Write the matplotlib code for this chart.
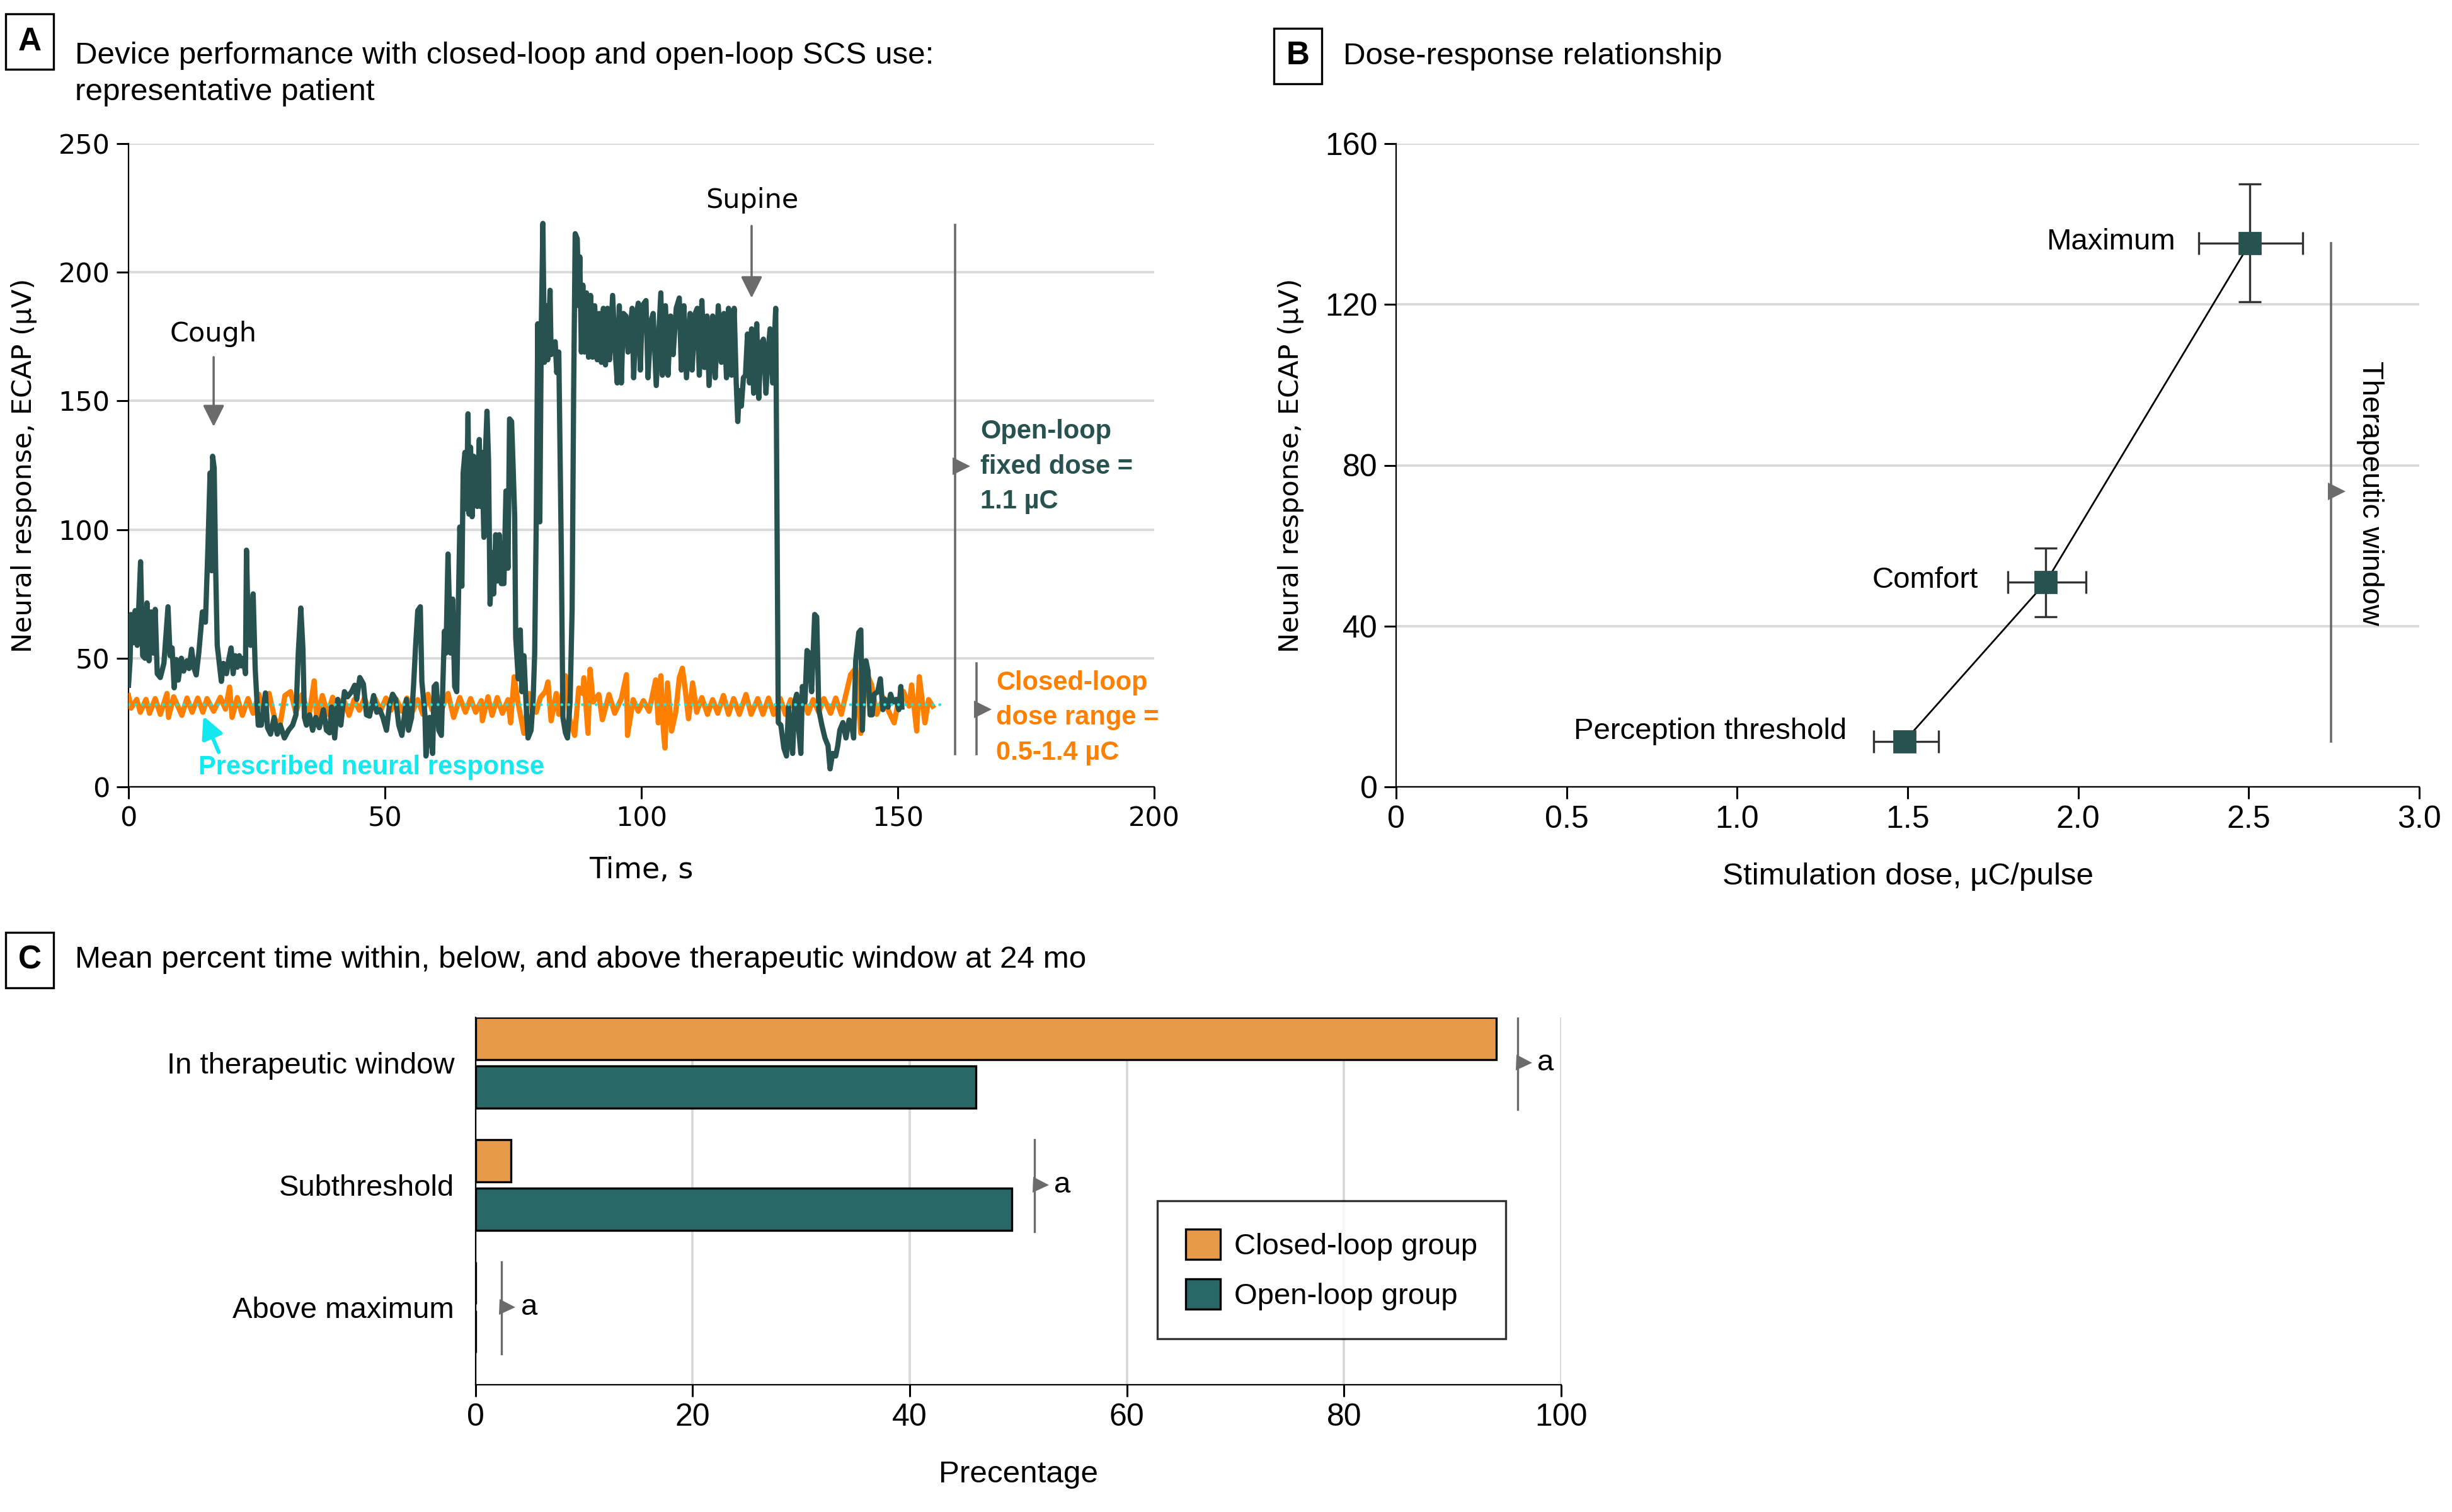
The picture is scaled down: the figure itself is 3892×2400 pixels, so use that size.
import matplotlib
matplotlib.use('Agg')
import matplotlib.pyplot as plt
from matplotlib import font_manager
import numpy as np

# ---- panel A: representative patient trace (time s, ECAP uV) ----
t_open = [0.0, 0.3, 0.5, 0.9, 1.3, 1.7, 2.35, 2.76, 3.2, 3.6,
          4.0, 4.4, 4.8, 5.2, 5.6, 6.2, 6.9, 7.3, 7.7, 8.1,
          8.5, 8.9, 9.3, 9.7, 10.3, 10.75, 11.4, 11.8, 12.3, 12.8,
          13.2, 13.7, 14.4, 15.0, 15.5, 15.9, 16.2, 16.4, 16.7, 17.0,
          17.3, 17.7, 18.1, 18.5, 19.1, 19.5, 20.0, 20.4, 20.8, 21.2,
          21.6, 22.0, 22.4, 22.8, 23.0, 23.4, 23.8, 24.3, 24.7, 25.3,
          25.9, 26.7, 27.1, 27.7, 28.4, 29.0, 29.6, 30.4, 31.2, 32.0,
          32.65, 33.1, 33.6, 34.0, 34.3, 34.7, 35.3, 35.9, 36.5, 37.2,
          38.0, 38.6, 39.2, 39.6, 40.2, 40.8, 41.4, 42.1, 42.7, 43.5,
          44.1, 44.5, 45.1, 45.8, 46.4, 47.0, 47.8, 48.4, 49.0, 49.6,
          50.3, 50.9, 51.5, 52.1, 52.7, 53.3, 54.2, 54.6, 55.2, 55.6,
          56.0, 56.4, 56.9, 57.2, 57.8, 58.0, 58.7, 59.3, 59.6, 60.0,
          60.5, 61.0, 61.6, 61.9, 62.3, 62.8, 63.2, 63.6, 64.0, 64.6,
          65.0, 65.25, 65.6, 65.9, 66.2, 66.4, 66.7, 67.0, 67.3, 67.6,
          68.0, 68.4, 68.6, 68.9, 69.3, 69.6, 69.9, 70.2, 70.5, 70.9,
          71.2, 71.6, 71.9, 72.3, 72.7, 73.2, 73.6, 74.0, 74.3, 74.7,
          75.0, 75.3, 75.5, 76.0, 76.4, 76.7, 77.1, 77.5, 77.9, 78.5,
          78.9, 79.2, 79.5, 79.8, 80.2, 80.5, 80.8, 81.1, 81.5, 81.75,
          82.2, 82.4, 82.8, 83.2, 83.5, 83.9, 84.4, 84.7, 85.2, 85.6,
          86.1, 86.5, 86.8, 87.1, 87.5, 87.8, 88.0, 88.3, 88.6, 88.9,
          89.3, 89.7, 90.1, 90.5, 90.9, 91.4, 91.8, 92.2, 92.6, 93.0,
          93.4, 93.8, 94.4, 94.9, 95.3, 95.7, 96.1, 96.5, 97.0, 97.4,
          98.2, 98.5, 99.0, 99.4, 99.8, 100.2, 100.9, 101.3, 101.9, 102.3,
          102.9, 103.3, 103.8, 104.1, 104.7, 105.2, 105.7, 106.2, 106.8, 107.4,
          107.8, 108.3, 108.8, 109.5, 109.9, 110.5, 110.9, 111.3, 111.8, 112.3,
          112.8, 113.2, 113.9, 114.4, 115.0, 115.6, 116.1, 116.6, 117.0, 117.6,
          118.1, 118.5, 118.8, 119.1, 119.5, 119.9, 120.3, 120.7, 121.1, 121.5,
          121.9, 122.5, 122.9, 123.3, 123.8, 124.3, 124.7, 125.1, 125.6, 126.2,
          126.7, 127.2, 127.8, 128.3, 128.7, 129.1, 129.5, 129.9, 130.3, 130.7,
          131.1, 131.4, 131.9, 132.3, 132.7, 133.2, 133.8, 134.2, 134.6, 135.2,
          135.8, 136.4, 136.8, 137.3, 137.9, 138.3, 138.7, 139.3, 139.9, 140.5,
          141.0, 141.4, 141.8, 142.4, 142.8, 143.1, 143.4, 143.8, 144.2, 144.6,
          145.0, 145.4, 146.1, 146.6, 147.1, 147.5, 148.1, 148.6, 149.1, 149.7,
          150.2, 150.6, 150.8]
ecap_open = [39.5, 49, 67, 56, 68.5, 55, 87.5, 51, 50, 71.5,
             49, 68, 52, 69, 44, 42.5, 48, 59, 70, 51,
             54, 38.5, 49.5, 41.5, 50, 45, 49, 46, 53.5, 46,
             43.5, 52, 68, 64, 94, 122, 84, 128.5, 124, 84,
             55, 48, 41, 48, 44, 49, 54, 44, 51, 46.5,
             51, 47, 50, 44, 92, 56, 55, 75, 46, 24,
             24, 36.5, 23, 20.5, 27, 20.5, 24, 19, 22, 24,
             28, 52, 69.5, 54, 27, 24, 28, 22, 27, 23,
             30, 22, 21, 31, 19, 34, 24, 37, 35, 37,
             39.5, 34, 42.5, 40, 28, 27.5, 35.5, 29, 30, 27,
             22, 32, 36, 34, 24, 20, 34, 22, 27, 40,
             55.5, 68.5, 70, 41, 28, 12, 27, 13, 39, 40,
             22, 20, 60.5, 52, 90.5, 52, 73, 39, 37, 101,
             78, 122, 130, 108, 145, 106, 132, 105, 128.5, 110,
             109, 135, 109, 130, 97, 130, 146, 127, 71, 91,
             75, 98, 80, 98, 79, 79, 115, 85, 143, 142,
             124, 105, 58, 42, 61, 37, 51, 33, 19, 22,
             34, 52, 102, 180, 103, 180, 219, 165, 187, 166,
             193, 168, 172, 173, 161, 169, 90, 27, 21, 19,
             33, 69, 154, 215, 213, 187, 206, 169, 195, 169,
             192, 167, 191, 167, 187, 166, 184, 165, 186, 164,
             186, 166, 191, 169, 157, 187, 157, 184, 183, 169,
             186, 159, 183, 188, 162, 187, 189, 159, 181, 184,
             156, 172, 192, 160, 187, 160, 183, 168, 186, 190,
             162, 187, 159, 184, 162, 184, 186, 160, 189, 163,
             183, 156, 183, 159, 187, 165, 184, 159, 186, 160,
             186, 157, 142, 154, 148, 159, 160, 176, 157, 178,
             153, 180, 151, 172, 174, 153, 169, 178, 157, 186,
             25, 24, 15, 12, 31, 19, 13, 33, 36, 22,
             13, 39, 33, 53, 52, 37, 67, 66, 30, 24,
             19, 16, 7, 13, 12, 16, 22, 25, 19, 26,
             24, 19, 49, 60, 61, 22, 40, 49, 45, 28,
             28, 36, 37, 42, 30, 34, 31, 36, 33, 34,
             30, 39, 31]

t_closed = [0.0, 0.5, 1.6, 2.3, 3.4, 4.1, 5.2, 6.2, 7.5, 7.8,
            8.8, 10.4, 11.4, 12.4, 13.5, 14.5, 15.3, 16.6, 17.9, 18.9,
            19.7, 20.2, 21.2, 22.2, 23.3, 24.3, 25.4, 26.4, 27.4, 28.5,
            29.5, 30.5, 31.6, 32.6, 33.9, 35.2, 36.2, 36.7, 37.8, 38.8,
            39.8, 40.9, 41.9, 43.0, 44.0, 45.0, 46.0, 47.1, 48.1, 49.1,
            50.2, 51.2, 52.2, 53.3, 54.3, 55.3, 56.4, 57.4, 58.4, 59.2,
            60.0, 61.0, 62.3, 63.4, 64.6, 65.7, 66.7, 67.7, 68.8, 69.0,
            70.1, 70.9, 71.9, 72.9, 74.0, 74.5, 75.2, 76.0, 77.1, 78.1,
            79.5, 80.3, 81.3, 81.8, 82.4, 83.4, 83.9, 85.2, 86.0, 87.0,
            87.8, 88.6, 88.8, 89.6, 90.0, 90.6, 91.7, 92.4, 93.7, 94.8,
            96.1, 97.1, 97.3, 98.4, 99.4, 100.4, 101.5, 102.8, 103.3, 103.8,
            104.3, 104.6, 105.1, 105.9, 106.7, 107.4, 108.0, 108.5, 109.2, 110.0,
            110.8, 111.8, 112.9, 113.9, 114.9, 116.0, 117.0, 118.0, 119.1, 120.4,
            121.4, 122.7, 123.7, 124.8, 125.8, 127.1, 128.1, 129.1, 130.2, 131.5,
            132.5, 133.5, 134.6, 135.6, 136.9, 137.9, 139.0, 139.7, 140.8, 141.8,
            142.8, 143.9, 144.9, 145.9, 147.2, 148.3, 149.3, 150.1, 151.1, 152.2,
            152.7, 153.7, 154.2, 155.3, 156.0, 156.8]
ecap_closed = [35.5, 30.6, 34, 29, 34, 28.6, 34.3, 28.2, 36.3, 27,
               35, 27.8, 34.5, 29, 34.5, 29, 34.3, 29.4, 34.8, 30.2,
               38.8, 27, 34.7, 27.8, 34.3, 28.6, 36, 28.6, 36.3, 26.5,
               23.7, 35.5, 37, 29, 36, 27.4, 41.2, 26.5, 35.5, 28.2,
               34.8, 29.4, 34.3, 27.8, 33.9, 29.8, 34.5, 29, 34.3, 29.4,
               34.5, 29.8, 34, 29.4, 34.5, 29, 33.9, 28.2, 36, 29.8,
               36.3, 29.8, 36.3, 27, 34.7, 29, 34.3, 29, 33.5, 25.7,
               35, 27.8, 34.7, 28.6, 33.9, 24.9, 42.8, 32.2, 20.8, 36.3,
               29, 34.7, 37.1, 40.8, 25.7, 36.3, 28.2, 43.2, 26.5, 20,
               38.4, 36.3, 42.4, 20.8, 45.7, 33, 35.9, 26.1, 35.9, 28.6,
               34.3, 43.6, 20, 33.9, 29.4, 33.5, 29.4, 41.6, 24.9, 43.2,
               21.7, 15.1, 40.4, 21.7, 29, 42.4, 46.1, 38.8, 26.5, 40.4,
               29, 34.7, 28.2, 33.9, 28.6, 35.5, 28.2, 34.3, 28.2, 35.9,
               28.2, 34.3, 28.2, 34.5, 28.2, 34.3, 28.2, 33.9, 29, 34.3,
               28.6, 33.9, 29, 34.3, 28.6, 34.5, 28.2, 34.3, 43.6, 46.1,
               20.8, 44.5, 39.6, 28.2, 34.7, 29, 24.9, 33, 37.1, 31.4,
               39.6, 21.7, 42.8, 24.9, 33.9, 31.4]

prescribed_ecap = 32
prescribed_span = [0, 158.5]

# ---- panel B: dose-response ----
dose_points = ['Perception threshold', 'Comfort', 'Maximum']
dose = [1.49, 1.905, 2.503]
dose_lo = [1.40, 1.793, 2.354]
dose_hi = [1.59, 2.022, 2.659]
resp = [11.3, 50.9, 135.2]
resp_lo = [9.5, 42.3, 120.6]
resp_hi = [12.8, 59.4, 150.0]
dose_ticklabels = ['0', '0.5', '1.0', '1.5', '2.0', '2.5', '3.0']

# ---- panel C: mean percent time ----
window_cats = ['In therapeutic window', 'Subthreshold', 'Above maximum']
closed_pct = [94.0, 3.3, 0.0]
open_pct = [46.1, 49.4, 0.0]
sig_x = [96.0, 51.5, 2.4]

DARK = '#28524F'
ORANGE = '#FF8000'
CYAN = '#12E8EE'
GRAY = '#6B6B6B'
GRID = '#DADADA'

plt.rcParams['font.family'] = 'DejaVu Sans'


def nar(size, weight='normal'):
    # narrower face used for titles and panels B/C
    return font_manager.FontProperties(family='Liberation Sans', size=size, weight=weight)


W, H = 3892, 2400
fig = plt.figure(figsize=(W / 200, H / 200), dpi=200)


def fx(px):
    return px / W


def fy(py):
    return 1 - py / H


def panel_title(x_box, y, letter, text):
    fig.text(fx(x_box), fy(y), letter, fontproperties=nar(18.5, 'bold'),
             ha='center', va='center',
             bbox=dict(boxstyle='square,pad=0.38', fc='white', ec='black', lw=1.2))
    fig.text(fx(x_box + 72), fy(y), text, fontproperties=nar(17.8),
             ha='left', va='top' if '\n' in text else 'center',
             linespacing=1.38)


# ================= A =================
axA = fig.add_axes([fx(204), fy(1249), fx(1832 - 204), (1249 - 228) / H])
axA.plot(t_closed, ecap_closed, color=ORANGE, lw=3.0, zorder=3)
axA.plot(t_open, ecap_open, color=DARK, lw=3.0, zorder=4)
axA.plot(prescribed_span, [prescribed_ecap] * 2, color=CYAN, lw=1.7,
         linestyle=(0, (0.01, 2.3)), dash_capstyle='round', zorder=5)
axA.set_xlim(0, 200)
axA.set_ylim(0, 250)
axA.set_xticks(np.arange(0, 201, 50))
axA.set_yticks(np.arange(0, 251, 50))
axA.yaxis.grid(True, color=GRID, lw=1.4)
axA.set_axisbelow(True)
for s in ['top', 'right']:
    axA.spines[s].set_visible(False)
axA.tick_params(labelsize=15.5, length=7, width=1.1, direction='out')
axA.set_xlabel('Time, s', fontsize=16.5, labelpad=14)
axA.set_ylabel('Neural response, ECAP (µV)', fontsize=15.5, labelpad=12)

arrow_kw = dict(arrowstyle='-|>', color=GRAY, lw=1.3, mutation_scale=26,
                shrinkA=0, shrinkB=0)
axA.annotate('', xy=(16.6, 140), xytext=(16.6, 167), arrowprops=arrow_kw)
axA.text(16.6, 176, 'Cough', ha='center', va='center', fontsize=15.5)
axA.annotate('', xy=(121.5, 190), xytext=(121.5, 218), arrowprops=arrow_kw)
axA.text(121.6, 228, 'Supine', ha='center', va='center', fontsize=15.5)

axA.annotate('', xy=(14.6, 27.5), xytext=(17.6, 13.5),
             arrowprops=dict(arrowstyle='-|>', color=CYAN, lw=2.2,
                             mutation_scale=26, shrinkA=0, shrinkB=0))
axA.text(13.6, 7.6, 'Prescribed neural response', color=CYAN,
         fontproperties=nar(15, 'bold'), ha='left', va='center')

axA.plot([161.2, 161.2], [12.7, 218.5], color=GRAY, lw=1.3)
axA.plot(162.4, 124.7, marker='>', color=GRAY, ms=10, mew=0)
axA.text(166.1, 124.5, 'Open-loop\nfixed dose =\n1.1 µC', color=DARK,
         fontproperties=nar(15, 'bold'), ha='left', va='center', linespacing=1.5)
axA.plot([165.4, 165.4], [12.7, 48], color=GRAY, lw=1.3)
axA.plot(166.6, 30.2, marker='>', color=GRAY, ms=10, mew=0)
axA.text(169.2, 26.9, 'Closed-loop\ndose range =\n0.5-1.4 µC', color=ORANGE,
         fontproperties=nar(15, 'bold'), ha='left', va='center', linespacing=1.5)

panel_title(47, 66, 'A', 'Device performance with closed-loop and open-loop SCS use:\nrepresentative patient')

# ================= B =================
axB = fig.add_axes([fx(2216), fy(1249), fx(3840 - 2216), (1249 - 228) / H])
dose_a = np.array(dose)
resp_a = np.array(resp)
xerr = [dose_a - np.array(dose_lo), np.array(dose_hi) - dose_a]
yerr = [resp_a - np.array(resp_lo), np.array(resp_hi) - resp_a]
axB.plot(dose, resp, color='black', lw=1.0, zorder=3)
axB.errorbar(dose, resp, xerr=xerr, yerr=yerr, fmt='none', ecolor='#333333',
             elinewidth=1.2, capsize=6.5, capthick=1.2, zorder=4)
axB.plot(dose, resp, 's', color=DARK, ms=12, zorder=5)
axB.set_xlim(0, 3)
axB.set_ylim(0, 160)
axB.set_xticks(np.arange(0, 3.01, 0.5))
axB.set_xticklabels(dose_ticklabels)
axB.set_yticks(np.arange(0, 161, 40))
axB.yaxis.grid(True, color=GRID, lw=1.4)
axB.set_axisbelow(True)
for s in ['top', 'right']:
    axB.spines[s].set_visible(False)
axB.tick_params(length=7, width=1.1, direction='out')
for lab in axB.get_xticklabels() + axB.get_yticklabels():
    lab.set_fontproperties(nar(18))
axB.set_xlabel('Stimulation dose, µC/pulse', fontproperties=nar(17.8), labelpad=16)
axB.set_ylabel('Neural response, ECAP (µV)', fontsize=15.5, labelpad=12)

label_pos = [(1.321, 13.8), (1.706, 51.4), (2.285, 135.6)]
for name, (lx, ly) in zip(dose_points, label_pos):
    axB.text(lx, ly, name, fontproperties=nar(17), ha='right', va='center')

axB.plot([2.741, 2.741], [11.3, 135.2], color=GRAY, lw=1.3)
axB.plot(2.758, 73.5, marker='>', color=GRAY, ms=10, mew=0)
axB.text(2.856, 73, 'Therapeutic window', rotation=270,
         fontproperties=nar(17), ha='center', va='center')

panel_title(2060, 89, 'B', 'Dose-response relationship')

# ================= C =================
axC = fig.add_axes([fx(754.5), fy(2198), fx(2478 - 754.5), (2198 - 1615) / H])
yc = np.arange(len(window_cats))
axC.barh(yc - 0.2, closed_pct, height=0.345, color='#E69A4A', edgecolor='black',
         lw=1.2, label='Closed-loop group', zorder=3)
axC.barh(yc + 0.2, open_pct, height=0.345, color='#296866', edgecolor='black',
         lw=1.2, label='Open-loop group', zorder=3)
axC.set_xlim(0, 100)
axC.set_ylim(2.634, -0.371)
axC.set_xticks(np.arange(0, 101, 20))
axC.set_yticks(yc)
axC.set_yticklabels(window_cats)
axC.xaxis.grid(True, color=GRID, lw=1.4)
axC.set_axisbelow(True)
for s in ['top', 'right']:
    axC.spines[s].set_visible(False)
axC.tick_params(axis='x', length=7, width=1.1, direction='out')
axC.tick_params(axis='y', length=0, pad=12)
for lab in axC.get_xticklabels():
    lab.set_fontproperties(nar(18))
for lab in axC.get_yticklabels():
    lab.set_fontproperties(nar(17))
axC.set_xlabel('Precentage', fontproperties=nar(17.8), labelpad=16)

for i, sx in enumerate(sig_x):
    axC.plot([sx, sx], [i - 0.37, i + 0.38], color=GRAY, lw=1.2, zorder=4)
    axC.plot(sx + 0.55, i, marker='>', color=GRAY, ms=9, mew=0, zorder=4)
    axC.text(sx + 1.8, i, 'a', fontproperties=nar(17), ha='left', va='center')

leg = axC.legend(loc='lower left', bbox_to_anchor=(0.628, 0.125), prop=nar(17),
                 frameon=True, fancybox=False, edgecolor='black',
                 handlelength=1.18, handleheight=1.18, handletextpad=0.45,
                 labelspacing=0.62, borderpad=0.95, borderaxespad=0)
leg.get_frame().set_linewidth(1.2)

panel_title(47, 1524, 'C', 'Mean percent time within, below, and above therapeutic window at 24 mo')

fig.savefig('out.png', dpi=200, facecolor='white')
